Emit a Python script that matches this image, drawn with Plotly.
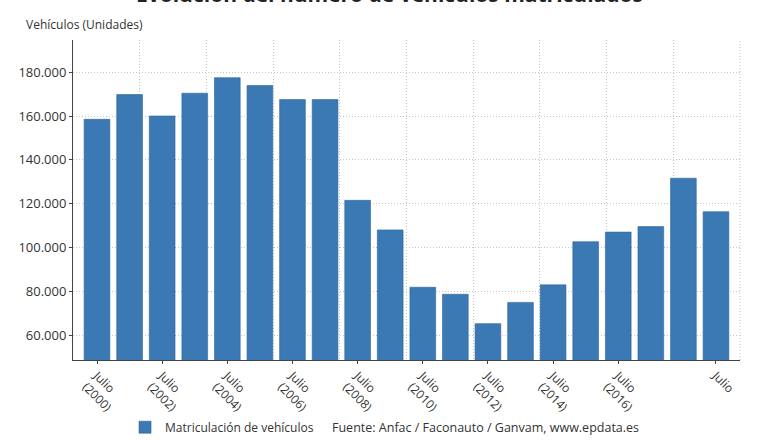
import plotly.graph_objects as go

years = [str(y) for y in range(2000, 2020)]
categories = ["Julio (" + y + ")" for y in years]
values = [158500, 169800, 160000, 170400, 177500, 173900, 167500, 167500,
          121500, 108000, 81800, 78600, 65200, 74900, 82900, 102600,
          107000, 109500, 131600, 116300]
tick_years = ["2000", "2002", "2004", "2006", "2008", "2010", "2012", "2014", "2016", "2019"]
tick_text = ["Julio<br>(" + y + ")" for y in tick_years[:-1]] + ["Julio"]
tick_vals = ["Julio (" + y + ")" for y in tick_years]

y_ticks = [60000, 80000, 100000, 120000, 140000, 160000, 180000]
y_text = ["60.000", "80.000", "100.000", "120.000", "140.000", "160.000", "180.000"]

FONT = "Open Sans"
TXT = "#333333"
GRID = "#c4c4c4"
DOTS = "1px,2px"

fig = go.Figure()
fig.add_trace(go.Bar(
    x=categories, y=values, name="Matriculación de vehículos",
    marker=dict(color="#3a79b3", line=dict(color="#2f6799", width=0.6)),
    width=0.79, xaxis="x", yaxis="y",
))
# helper invisible trace to drive vertical grid (10 equal divisions)
fig.add_trace(go.Scatter(x=[0, 10], y=[None, None], xaxis="x2", yaxis="y",
                         showlegend=False, hoverinfo="skip"))

fig.update_layout(
    width=780, height=440,
    margin=dict(l=73, r=40, t=40, b=80, autoexpand=False),
    paper_bgcolor="white", plot_bgcolor="white",
    font=dict(family=FONT, size=13, color=TXT),
    showlegend=True,
    legend=dict(orientation="h", x=0.078, xanchor="left", y=-0.21, yanchor="middle",
                font=dict(size=12, color=TXT), itemwidth=30,
                bgcolor="rgba(0,0,0,0)"),
    xaxis=dict(
        type="category", range=[-0.737, 19.737],
        tickmode="array", tickvals=tick_vals, ticktext=tick_text,
        tickangle=45, ticks="outside", ticklen=3, tickcolor="#444",
        showline=True, linecolor="#444", linewidth=1,
        showgrid=False, zeroline=False, automargin=False,
        tickfont=dict(size=12, color=TXT),
    ),
    xaxis2=dict(
        overlaying="x", range=[0, 10], dtick=1, tick0=0,
        showgrid=True, gridcolor=GRID, griddash=DOTS, gridwidth=1,
        showticklabels=False, ticks="", zeroline=False, showline=False,
    ),
    yaxis=dict(
        range=[48600, 194700],
        tickmode="array", tickvals=y_ticks, ticktext=y_text,
        ticks="outside", ticklen=3, tickcolor="#444",
        showline=True, linecolor="#444", linewidth=1,
        showgrid=True, gridcolor=GRID, griddash=DOTS, gridwidth=1,
        zeroline=False, automargin=False,
        tickfont=dict(size=13, color=TXT),
    ),
)

# right border dotted
fig.add_shape(type="line", xref="paper", yref="paper", x0=1, x1=1, y0=0, y1=1,
              line=dict(color=GRID, width=1, dash=DOTS))

fig.add_annotation(text="<b>Evolución del número de vehículos matriculados</b>",
                   xref="paper", yref="paper", x=0.475, y=1.095,
                   xanchor="center", yanchor="bottom", showarrow=False,
                   font=dict(size=21, color="#222222", family=FONT))
fig.add_annotation(text="Vehículos (Unidades)",
                   xref="paper", yref="paper", x=-0.073, y=1.047,
                   xanchor="left", yanchor="middle", showarrow=False,
                   font=dict(size=12, color=TXT, family=FONT))
fig.add_annotation(text="Fuente: Anfac / Faconauto / Ganvam, www.epdata.es",
                   xref="paper", yref="paper", x=0.385, y=-0.21,
                   xanchor="left", yanchor="middle", showarrow=False,
                   font=dict(size=12.5, color=TXT, family=FONT))

fig.write_html("out.html")
